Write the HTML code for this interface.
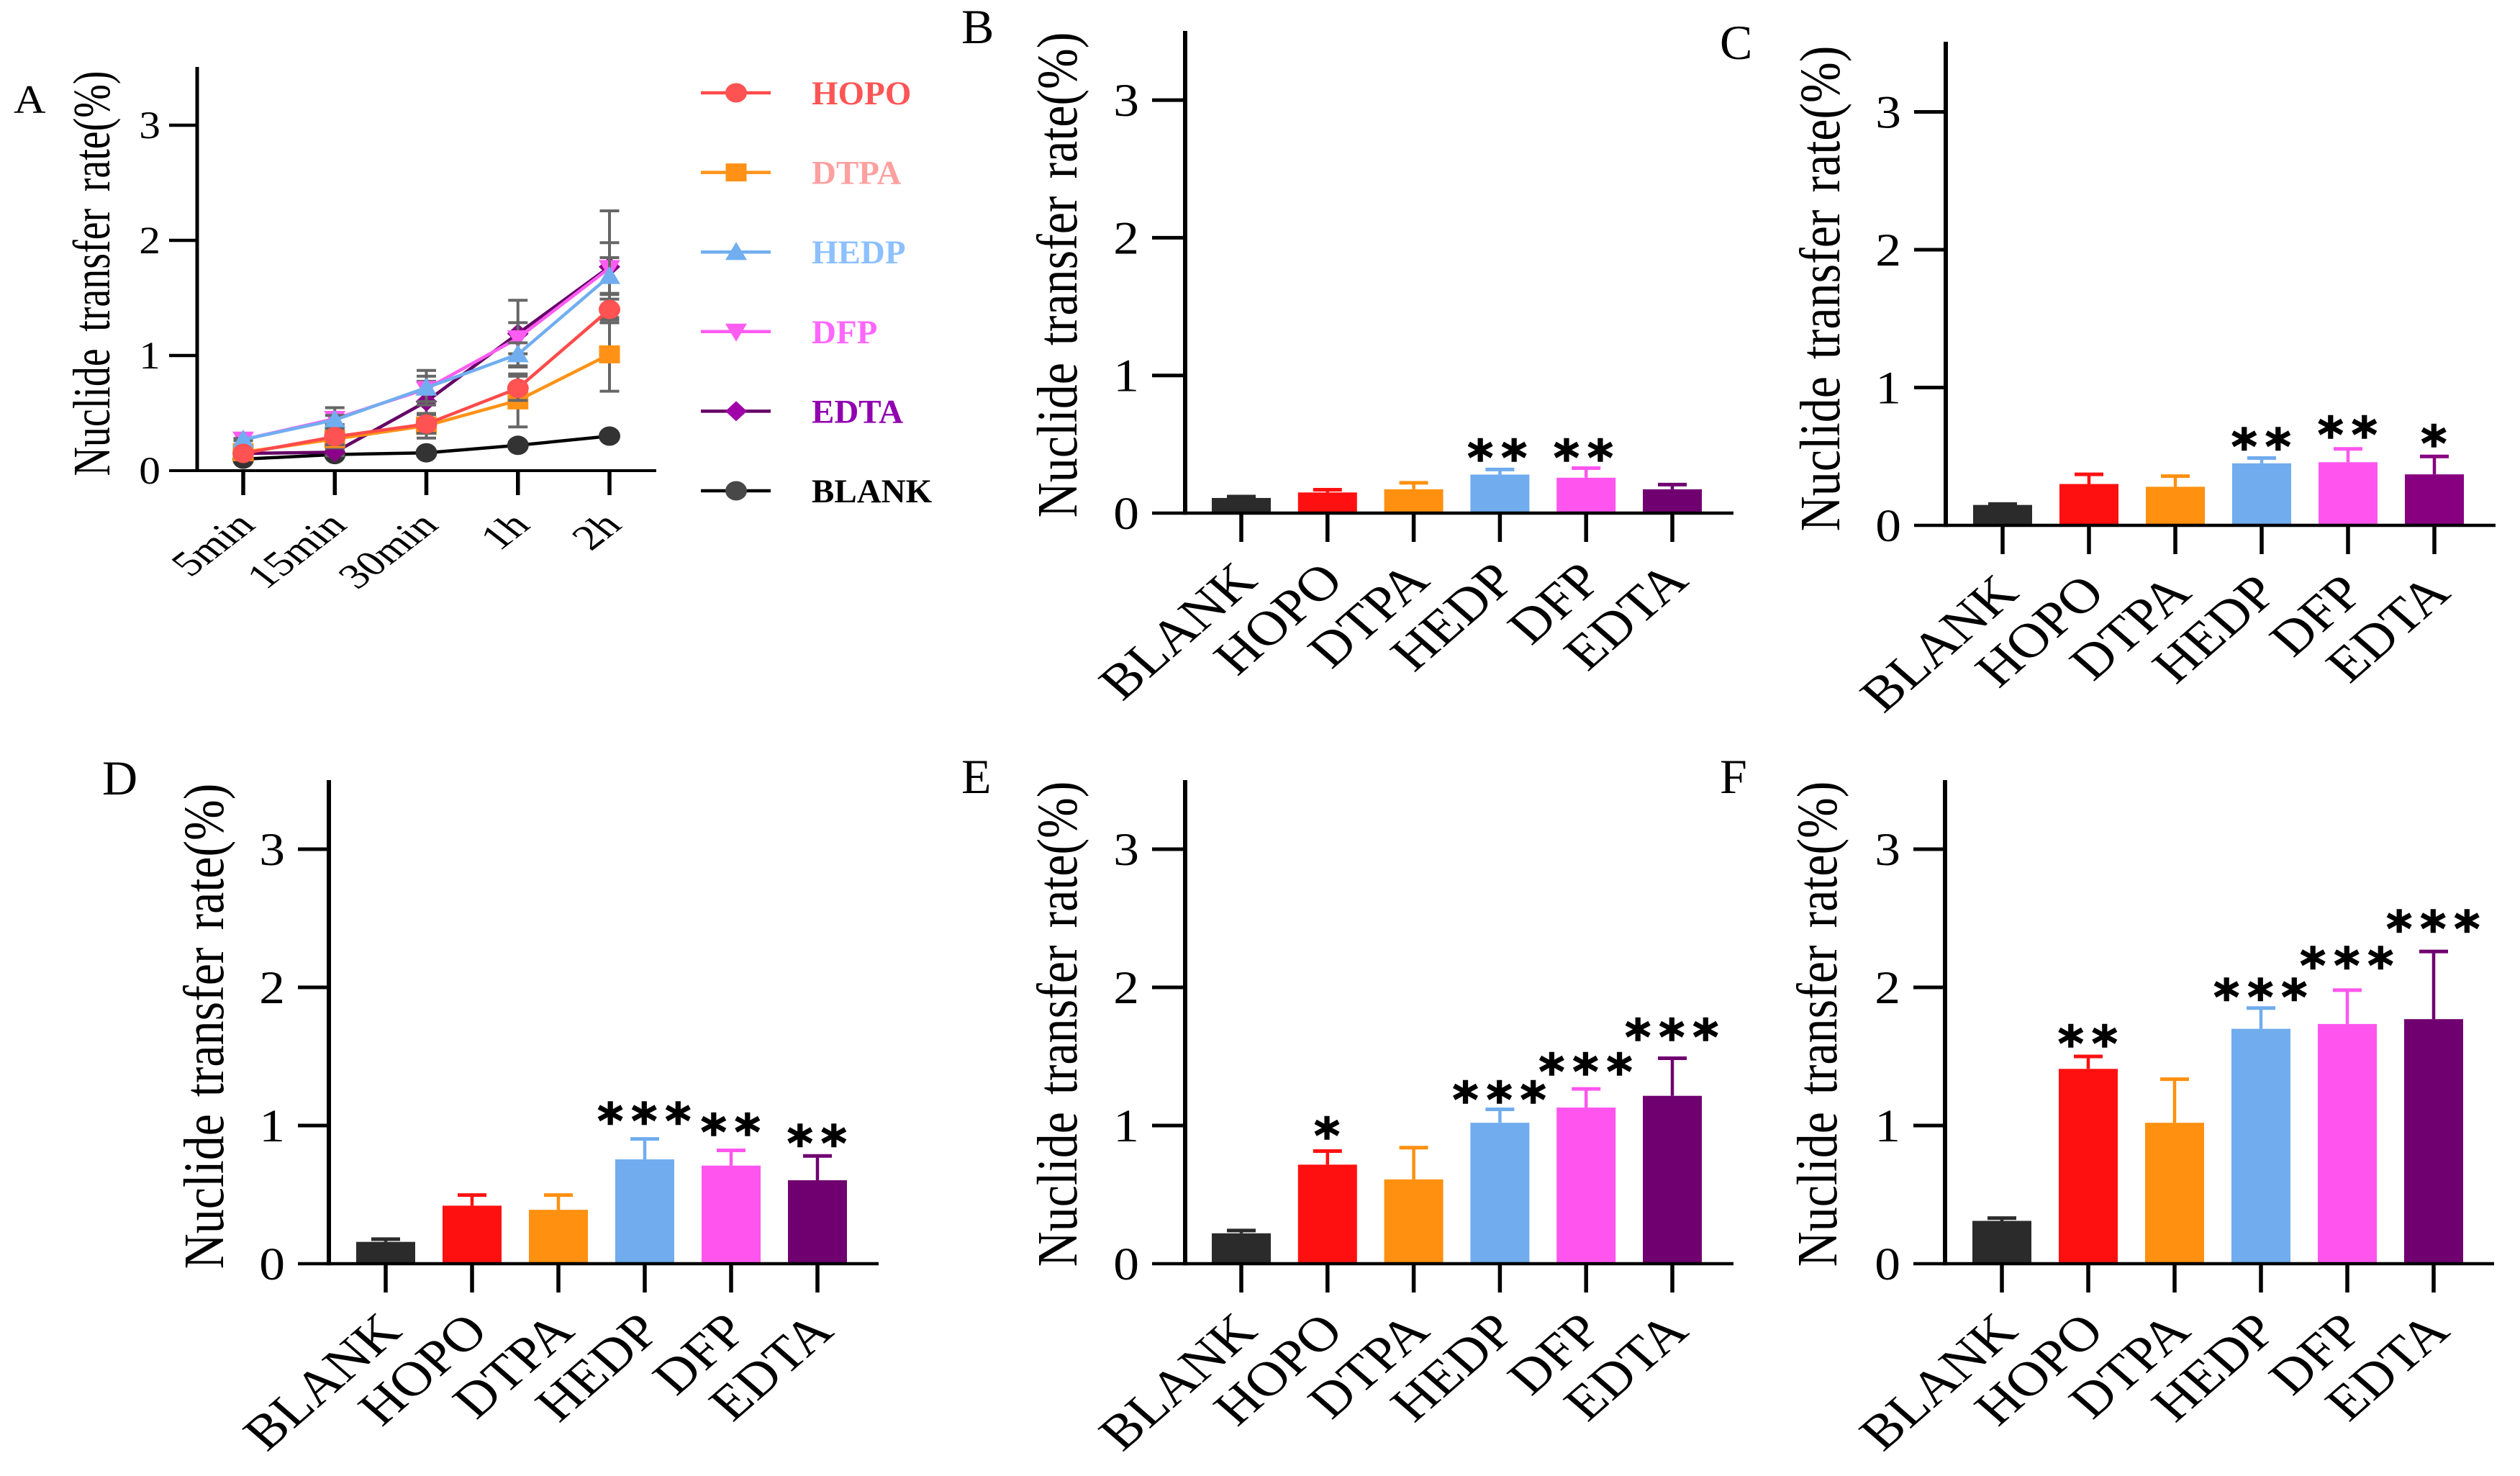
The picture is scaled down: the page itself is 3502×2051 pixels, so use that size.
<!DOCTYPE html>
<html lang="en">
<head>
<meta charset="utf-8">
<title>Nuclide transfer rate charts</title>
<style>
html,body{margin:0;padding:0;background:#fff;}
svg{display:block;}
text{font-family:"Liberation Serif",serif;fill:#000;}
</style>
</head>
<body>
<svg id="figure" xmlns="http://www.w3.org/2000/svg" width="3502" height="2051" viewBox="0 0 3502 2051"></svg>
<script>
// ---------- Chart data ----------
const timeCategories = ['5min', '15min', '30min', '1h', '2h'];
const agentCategories = ['BLANK', 'HOPO', 'DTPA', 'HEDP', 'DFP', 'EDTA'];
const yTickValues = [0, 1, 2, 3];

// Panel A series (mean) and error (SD)
const blankSeries = [0.10, 0.14, 0.155, 0.22, 0.30];
const edtaSeries = [0.15, 0.16, 0.60, 1.19, 1.77];
const dfpSeries = [0.27, 0.45, 0.71, 1.15, 1.76];
const dtpaSeries = [0.16, 0.275, 0.39, 0.61, 1.01];
const hedpSeries = [0.27, 0.44, 0.72, 1.01, 1.69];
const hopoSeries = [0.15, 0.295, 0.405, 0.715, 1.40];
const blankError = [0.01, 0.01, 0.02, 0.02, 0.02];
const edtaError = [0.01, 0.03, 0.176, 0.29, 0.486];
const dfpError = [0.01, 0.097, 0.11, 0.135, 0.22];
const dtpaError = [0.01, 0.077, 0.107, 0.23, 0.32];
const hedpError = [0.01, 0.04, 0.15, 0.10, 0.16];
const hopoError = [0.01, 0.07, 0.08, 0.105, 0.09];

// Panels B-F: bar height, error-bar top, significance stars, star level
const valuesB = [0.11, 0.15, 0.173, 0.28, 0.257, 0.173];
const upperB = [0.12, 0.17, 0.22, 0.317, 0.327, 0.207];
const starsB = ['', '', '', '**', '**', ''];
const starLevelB = [0, 0, 0, 0.46, 0.46, 0];

const valuesC = [0.148, 0.30, 0.28, 0.45, 0.458, 0.37];
const upperC = [0.155, 0.37, 0.357, 0.488, 0.555, 0.50];
const starsC = ['', '', '', '**', '**', '*'];
const starLevelC = [0, 0, 0, 0.63, 0.715, 0.653];

const valuesD = [0.158, 0.42, 0.39, 0.755, 0.71, 0.604];
const upperD = [0.178, 0.497, 0.497, 0.903, 0.82, 0.78];
const starsD = ['', '', '', '***', '**', '**'];
const starLevelD = [0, 0, 0, 1.09, 1.01, 0.93];

const valuesE = [0.22, 0.717, 0.61, 1.02, 1.13, 1.215];
const upperE = [0.24, 0.815, 0.84, 1.117, 1.265, 1.487];
const starsE = ['', '*', '', '***', '***', '***'];
const starLevelE = [0, 0.984, 0, 1.245, 1.448, 1.698];

const valuesF = [0.31, 1.41, 1.02, 1.70, 1.735, 1.77];
const upperF = [0.33, 1.50, 1.335, 1.85, 1.98, 2.26];
const starsF = ['', '**', '', '***', '***', '***'];
const starLevelF = [0, 1.65, 0, 1.987, 2.215, 2.483];

// ---------- Helpers ----------
const SVG_NS = 'http://www.w3.org/2000/svg';
const root = document.getElementById('figure');

function el(parent, tag, attrs, name) {
  const n = document.createElementNS(SVG_NS, tag);
  for (const k in attrs) n.setAttribute(k, attrs[k]);
  
  
  parent.appendChild(n);
  return n;
}
function txt(parent, attrs, content, name) {
  const n = el(parent, 'text', attrs, name);
  n.textContent = content;
  return n;
}
function slug(s) { return s.toLowerCase(); }

function drawAxes(g, p, cats) {
  const yOf = v => p.y0 - v * p.unit;
  const xOf = i => p.first + i * p.step;
  el(g, 'line', {x1: p.axisX, x2: p.axisX, y1: p.top, y2: p.y0 + p.xlw / 2, stroke: '#000', 'stroke-width': p.ylw}, 'y-axis-line');
  el(g, 'line', {x1: p.left, x2: p.right, y1: p.y0, y2: p.y0, stroke: '#000', 'stroke-width': p.xlw}, 'x-axis-line');
  yTickValues.forEach(v => {
    if (v > 0) el(g, 'line', {x1: p.left, x2: p.axisX, y1: yOf(v), y2: yOf(v), stroke: '#000', 'stroke-width': p.xlw + 0.5}, 'y-tick-' + v);
    txt(g, {
      transform: 'translate(' + (p.left - p.digitGap) + ',' + (yOf(v) + p.digitDy) + ') scale(' + p.digitSx + ',1)',
      'text-anchor': 'end', 'font-size': p.digitFont
    }, String(v), 'y-tick-label-' + v);
  });
  cats.forEach((c, i) => {
    el(g, 'line', {x1: xOf(i), x2: xOf(i), y1: p.y0, y2: p.y0 + p.tickLen, stroke: '#000', 'stroke-width': 5.5}, 'x-tick-' + slug(c));
    txt(g, {
      transform: 'translate(' + (xOf(i) + p.labelDx) + ',' + (p.y0 + p.labelDy) + ') scale(' + p.labelSx + ',1) rotate(-45)',
      'text-anchor': 'end', 'font-size': p.labelFont
    }, c, 'x-tick-label-' + slug(c));
  });
  txt(g, {
    transform: 'translate(' + p.titleX + ',' + p.titleY + ') rotate(-90) scale(1,' + p.titleSx + ')',
    'text-anchor': 'middle', 'font-size': p.titleFont, 'word-spacing': p.titleWs
  }, 'Nuclide transfer rate(%)', 'y-axis-title');
  txt(g, {
    transform: 'translate(' + p.letterX + ',' + p.letterY + ') scale(' + p.letterSx + ',1)',
    'font-size': p.letterFont
  }, p.letter, 'panel-label-' + slug(p.letter));
}

const barColors = ['#2b2b2b', '#ff1010', '#ff9010', '#70acee', '#ff55ee', '#700070'];

function drawBars(p, values, upper, stars, levels) {
  const g = el(root, 'g', {}, 'panel-' + slug(p.letter));
  const yOf = v => p.y0 - v * p.unit;
  const xOf = i => p.first + i * p.step;
  const colors = barColors.slice();
  if (p.edtaColor) colors[5] = p.edtaColor;
  agentCategories.forEach((c, i) => {
    const x = xOf(i);
    el(g, 'line', {x1: x, x2: x, y1: yOf(upper[i]), y2: yOf(values[i]), stroke: colors[i], 'stroke-width': 4.5}, 'error-bar-' + slug(c));
    el(g, 'line', {x1: x - 20, x2: x + 20, y1: yOf(upper[i]), y2: yOf(upper[i]), stroke: colors[i], 'stroke-width': 5}, 'error-cap-' + slug(c));
    el(g, 'rect', {x: x - 41, y: yOf(values[i]), width: 82, height: p.y0 - yOf(values[i]), fill: colors[i]}, 'bar-' + slug(c));
    if (stars[i]) {
      txt(g, {
        x: x + p.starDx, y: yOf(levels[i]) + 35,
        'text-anchor': 'middle', 'font-size': 68, 'font-weight': 'bold',
        'letter-spacing': 11.5, style: 'font-family:"DejaVu Sans",sans-serif',
        stroke: '#000', 'stroke-width': 1.6
      }, stars[i], 'significance-' + slug(c));
    }
  });
  drawAxes(g, p, agentCategories);
}

function barPanel(letter, o) {
  return Object.assign({
    letter: letter, ylw: 6, xlw: 4.5, step: 120, unit: 192, tickLen: 40, starDx: 5,
    digitFont: 65, digitSx: 1.1, digitGap: 18, digitDy: 22,
    labelFont: 68, labelSx: 1.15, labelDx: 25, labelDy: 97,
    titleFont: 68, titleSx: 1.17, titleWs: 7,
    letterFont: 68, letterSx: 1.0
  }, o);
}

// ---------- Panels B-F ----------
drawBars(barPanel('B', {axisX: 1647, top: 43, y0: 713, unit: 191.3, left: 1601, right: 2409, first: 1725, step: 119.8, titleX: 1496, titleY: 382, letterX: 1336, letterY: 60, starDx: 2}), valuesB, upperB, starsB, starLevelB);
drawBars(barPanel('C', {axisX: 2704, top: 58, y0: 730, unit: 191.5, left: 2660, right: 3468, first: 2783, titleX: 2556, titleY: 401, letterX: 2390, letterY: 82, edtaColor: '#880080'}), valuesC, upperC, starsC, starLevelC);
drawBars(barPanel('D', {axisX: 457, top: 1084, y0: 1756, left: 414, right: 1221, first: 536, titleX: 310, titleY: 1426, letterX: 142, letterY: 1104}), valuesD, upperD, starsD, starLevelD);
drawBars(barPanel('E', {axisX: 1647, top: 1084, y0: 1756, left: 1601, right: 2409, first: 1725, step: 119.8, titleX: 1496, titleY: 1423, letterX: 1336, letterY: 1102}), valuesE, upperE, starsE, starLevelE);
drawBars(barPanel('F', {axisX: 2703, top: 1084, y0: 1756, left: 2659, right: 3466, first: 2782, titleX: 2552, titleY: 1423, letterX: 2390, letterY: 1102}), valuesF, upperF, starsF, starLevelF);

// ---------- Panel A ----------
const panelA = {
  letter: 'A', ylw: 5, xlw: 4, axisX: 274, top: 93, y0: 654, unit: 160, left: 235, right: 912,
  first: 338, step: 127.25, tickLen: 34,
  digitFont: 54, digitSx: 1.1, digitGap: 12, digitDy: 18,
  labelFont: 49, labelSx: 1.3, labelDx: 19, labelDy: 78,
  titleX: 152, titleY: 380, titleFont: 56, titleSx: 1.3, titleWs: 9.5,
  letterX: 19, letterY: 157, letterFont: 56, letterSx: 1.1
};
const lineSeries = [
  {name: 'BLANK', values: blankSeries, error: blankError, line: '#000', fill: '#333', shape: 'circle'},
  {name: 'EDTA', values: edtaSeries, error: edtaError, line: '#650065', fill: '#8a0088', shape: 'diamond'},
  {name: 'DFP', values: dfpSeries, error: dfpError, line: '#ff5cf2', fill: '#ff5cf2', shape: 'down'},
  {name: 'DTPA', values: dtpaSeries, error: dtpaError, line: '#ff9216', fill: '#ff9216', shape: 'square'},
  {name: 'HEDP', values: hedpSeries, error: hedpError, line: '#70aeef', fill: '#70aeef', shape: 'up'},
  {name: 'HOPO', values: hopoSeries, error: hopoError, line: '#ff4a4a', fill: '#ff5252', shape: 'circle'}
];

function marker(g, shape, x, y, fill, name) {
  if (shape === 'circle') return el(g, 'ellipse', {cx: x, cy: y, rx: 15, ry: 13.5, fill: fill}, name);
  if (shape === 'square') return el(g, 'rect', {x: x - 14.5, y: y - 12.5, width: 29, height: 25, fill: fill}, name);
  const pts = {
    diamond: [[0, -14], [15, 0], [0, 14], [-15, 0]],
    up: [[0, -14], [15, 11], [-15, 11]],
    down: [[0, 14], [15, -11], [-15, -11]]
  }[shape];
  return el(g, 'polygon', {points: pts.map(q => (x + q[0]) + ',' + (y + q[1])).join(' '), fill: fill}, name);
}

(function drawLinePanel() {
  const p = panelA;
  const g = el(root, 'g', {}, 'panel-a');
  const yOf = v => p.y0 - v * p.unit;
  const xOf = i => p.first + i * p.step;
  lineSeries.forEach(s => {
    const sg = el(g, 'g', {}, 'series-' + slug(s.name));
    s.values.forEach((v, i) => {
      const x = xOf(i), hi = yOf(v + s.error[i]), lo = yOf(v - s.error[i]);
      el(sg, 'line', {x1: x, x2: x, y1: hi, y2: lo, stroke: '#666', 'stroke-width': 4}, 'error-bar');
      el(sg, 'line', {x1: x - 13.5, x2: x + 13.5, y1: hi, y2: hi, stroke: '#666', 'stroke-width': 4}, 'error-cap-upper');
      el(sg, 'line', {x1: x - 13.5, x2: x + 13.5, y1: lo, y2: lo, stroke: '#666', 'stroke-width': 4}, 'error-cap-lower');
    });
    el(sg, 'polyline', {
      points: s.values.map((v, i) => xOf(i) + ',' + yOf(v)).join(' '),
      fill: 'none', stroke: s.line, 'stroke-width': 4.5
    }, 'series-line');
    s.values.forEach((v, i) => {
      marker(sg, s.shape, xOf(i), yOf(v), s.fill, 'point-' + timeCategories[i]);
    });
  });
  drawAxes(g, p, timeCategories);
})();

// ---------- Legend ----------
const legendEntries = [
  {name: 'HOPO', shape: 'circle', line: '#ff4a4a', fill: '#ff5252', color: '#ff5555'},
  {name: 'DTPA', shape: 'square', line: '#ff9216', fill: '#ff9216', color: '#ffa0a0'},
  {name: 'HEDP', shape: 'up', line: '#70aeef', fill: '#70aeef', color: '#8cc0ff'},
  {name: 'DFP', shape: 'down', line: '#ff5cf2', fill: '#ff5cf2', color: '#ff66ff'},
  {name: 'EDTA', shape: 'diamond', line: '#650065', fill: '#a000a8', color: '#9000b0'},
  {name: 'BLANK', shape: 'circle', line: '#000', fill: '#484848', color: '#000'}
];
(function drawLegend() {
  const g = el(root, 'g', {}, 'legend');
  legendEntries.forEach((e, i) => {
    const y = 129 + i * 110.6;
    const row = el(g, 'g', {}, 'legend-entry-' + slug(e.name));
    el(row, 'line', {x1: 974, x2: 1071, y1: y, y2: y, stroke: e.line, 'stroke-width': 4.5}, 'legend-line');
    marker(row, e.shape, 1023, y, e.fill, 'legend-marker');
    const t = txt(row, {x: 1128, y: y + 16, 'font-size': 47, 'font-weight': 'bold'}, e.name, 'legend-label');
    t.style.fill = e.color;
  });
})();
</script>
</body>
</html>
